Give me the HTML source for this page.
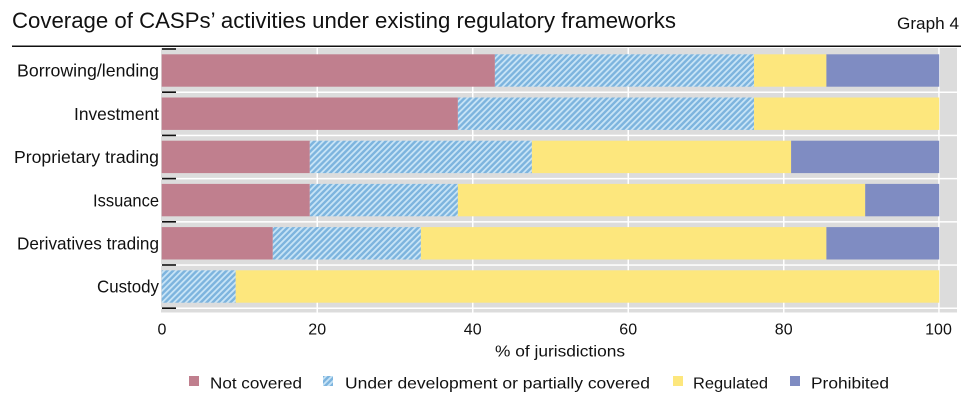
<!DOCTYPE html>
<html><head><meta charset="utf-8"><style>
html,body{margin:0;padding:0;background:#fff;}
svg{display:block;font-family:"Liberation Sans",sans-serif;}
</style></head><body>
<svg width="973" height="400" viewBox="0 0 973 400" xmlns="http://www.w3.org/2000/svg">
<defs>
<pattern id="h" patternUnits="userSpaceOnUse" width="4.2" height="4.2" patternTransform="rotate(45)">
<rect x="0" y="0" width="4.2" height="4.2" fill="#7db4de"/>
<rect x="0" y="0" width="1.8" height="4.2" fill="#c8e4f6"/>
</pattern>
</defs>
<text x="12" y="28" font-size="22.5" fill="#111" textLength="664" lengthAdjust="spacingAndGlyphs">Coverage of CASPs’ activities under existing regulatory frameworks</text>
<text x="897" y="29" font-size="17" fill="#111" textLength="62" lengthAdjust="spacingAndGlyphs">Graph 4</text>
<rect x="12" y="45.5" width="949" height="1.5" fill="#111"/>
<rect x="161" y="48" width="796" height="264.5" fill="#dcdcdc"/>
<g fill="#fff">
<rect x="316.5" y="48" width="1.5" height="264.5"/>
<rect x="472" y="48" width="1.5" height="264.5"/>
<rect x="627.5" y="48" width="1.5" height="264.5"/>
<rect x="783" y="48" width="1.5" height="264.5"/>
<rect x="938.2" y="48" width="1.5" height="264.5"/>
<rect x="161" y="91.5" width="796" height="1.5"/>
<rect x="161" y="134.7" width="796" height="1.5"/>
<rect x="161" y="177.9" width="796" height="1.5"/>
<rect x="161" y="221.1" width="796" height="1.5"/>
<rect x="161" y="264.3" width="796" height="1.5"/>
<rect x="161" y="307.5" width="796" height="1.5"/>
</g>
<g>
<rect x="161.7" y="54.3" width="333.2" height="32.4" fill="#c07f8e"/>
<rect x="494.9" y="54.3" width="259.1" height="32.4" fill="url(#h)"/>
<rect x="754" y="54.3" width="72.4" height="32.4" fill="#fde77d"/>
<rect x="826.4" y="54.3" width="112.8" height="32.4" fill="#7f8cc2"/>
<rect x="161.7" y="97.5" width="296.2" height="32.4" fill="#c07f8e"/>
<rect x="457.9" y="97.5" width="296.1" height="32.4" fill="url(#h)"/>
<rect x="754" y="97.5" width="185.2" height="32.4" fill="#fde77d"/>
<rect x="161.7" y="140.7" width="148.1" height="32.4" fill="#c07f8e"/>
<rect x="309.8" y="140.7" width="222.1" height="32.4" fill="url(#h)"/>
<rect x="531.9" y="140.7" width="259.2" height="32.4" fill="#fde77d"/>
<rect x="791.1" y="140.7" width="148.1" height="32.4" fill="#7f8cc2"/>
<rect x="161.7" y="183.9" width="148.1" height="32.4" fill="#c07f8e"/>
<rect x="309.8" y="183.9" width="148.1" height="32.4" fill="url(#h)"/>
<rect x="457.9" y="183.9" width="407.3" height="32.4" fill="#fde77d"/>
<rect x="865.2" y="183.9" width="74" height="32.4" fill="#7f8cc2"/>
<rect x="161.7" y="227.1" width="111.1" height="32.4" fill="#c07f8e"/>
<rect x="272.8" y="227.1" width="148.1" height="32.4" fill="url(#h)"/>
<rect x="420.9" y="227.1" width="405.5" height="32.4" fill="#fde77d"/>
<rect x="826.4" y="227.1" width="112.8" height="32.4" fill="#7f8cc2"/>
<rect x="161.7" y="270.3" width="74" height="32.4" fill="url(#h)"/>
<rect x="235.7" y="270.3" width="703.5" height="32.4" fill="#fde77d"/>
</g>
<g fill="#111">
<rect x="162" y="48.2" width="14" height="1.6"/>
<rect x="162" y="91.4" width="14" height="1.6"/>
<rect x="162" y="134.6" width="14" height="1.6"/>
<rect x="162" y="177.8" width="14" height="1.6"/>
<rect x="162" y="221" width="14" height="1.6"/>
<rect x="162" y="264.2" width="14" height="1.6"/>
<rect x="162" y="307.4" width="14" height="1.6"/>
</g>
<g font-size="17.5" fill="#111" text-anchor="end">
<text x="159" y="76.7" textLength="142" lengthAdjust="spacingAndGlyphs">Borrowing/lending</text>
<text x="159" y="119.9" textLength="85" lengthAdjust="spacingAndGlyphs">Investment</text>
<text x="159" y="163.1" textLength="145" lengthAdjust="spacingAndGlyphs">Proprietary trading</text>
<text x="159" y="206.3" textLength="66" lengthAdjust="spacingAndGlyphs">Issuance</text>
<text x="159" y="249.5" textLength="142" lengthAdjust="spacingAndGlyphs">Derivatives trading</text>
<text x="159" y="292.7" textLength="62" lengthAdjust="spacingAndGlyphs">Custody</text>
</g>
<g font-size="16" fill="#111" text-anchor="middle">
<text x="162" y="334.5">0</text>
<text x="317.2" y="334.5">20</text>
<text x="472.7" y="334.5">40</text>
<text x="628.2" y="334.5">60</text>
<text x="783.7" y="334.5">80</text>
<text x="938.5" y="334.5">100</text>
</g>
<text x="495" y="356.5" font-size="16" fill="#111" textLength="130" lengthAdjust="spacingAndGlyphs">% of jurisdictions</text>
<g font-size="16" fill="#111">
<rect x="189" y="376" width="10" height="10" fill="#c07f8e"/>
<text x="210" y="388.3" textLength="92" lengthAdjust="spacingAndGlyphs">Not covered</text>
<rect x="323" y="376" width="10" height="10" fill="url(#h)"/>
<text x="345" y="388.3" textLength="305" lengthAdjust="spacingAndGlyphs">Under development or partially covered</text>
<rect x="673" y="376" width="10" height="10" fill="#fde77d"/>
<text x="693" y="388.3" textLength="75" lengthAdjust="spacingAndGlyphs">Regulated</text>
<rect x="790" y="376" width="10" height="10" fill="#7f8cc2"/>
<text x="811" y="388.3" textLength="78" lengthAdjust="spacingAndGlyphs">Prohibited</text>
</g>
</svg>
</body></html>
